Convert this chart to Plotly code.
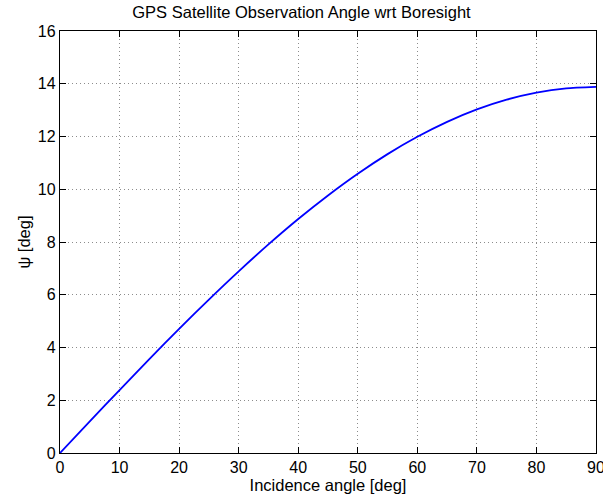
import plotly.graph_objects as go

# Incidence angle (deg) and observation angle psi wrt boresight (deg)
incidence_deg = [0, 5, 10, 15, 20, 25, 30, 35, 40, 45, 50, 55, 60, 65, 70, 75, 80, 85, 90]
psi_deg = [0.0, 1.198, 2.387, 3.559, 4.706, 5.818, 6.888, 7.908, 8.870, 9.765,
           10.588, 11.332, 11.989, 12.556, 13.027, 13.397, 13.664, 13.825, 13.879]

x_ticks = [0, 10, 20, 30, 40, 50, 60, 70, 80, 90]
y_ticks = [0, 2, 4, 6, 8, 10, 12, 14, 16]

FONT = "Liberation Sans, Arial, sans-serif"

fig = go.Figure()
fig.add_trace(go.Scatter(
    x=incidence_deg, y=psi_deg, mode="lines",
    line=dict(color="#0000ff", width=1.8, shape="spline", smoothing=0.6),
    showlegend=False, hoverinfo="skip",
))

axis_common = dict(
    showline=True, linecolor="black", linewidth=1.3, mirror="ticks",
    ticks="inside", ticklen=6, tickcolor="black", tickwidth=1,
    showgrid=True, gridcolor="#8c8c8c", griddash="1px,3px", gridwidth=1,
    zeroline=False, ticklabeloverflow="allow", automargin=False,
    tickfont=dict(family=FONT, size=16, color="black"),
)

fig.update_xaxes(
    range=[0, 90], tickvals=x_ticks, ticktext=[str(v) for v in x_ticks],
    title=dict(text="Incidence angle [deg]", standoff=0,
               font=dict(family=FONT, size=16.5, color="black")),
    **axis_common,
)
fig.update_yaxes(
    range=[0, 16], tickvals=y_ticks, ticktext=[str(v) for v in y_ticks],
    title=dict(text="ψ [deg]", standoff=3,
               font=dict(family=FONT, size=16.5, color="black")),
    **axis_common,
)

fig.update_layout(
    width=603, height=501,
    margin=dict(l=60, r=7, t=31, b=48),
    paper_bgcolor="white", plot_bgcolor="white",
    title=dict(text="GPS Satellite Observation Angle wrt Boresight",
               x=0.5, xanchor="center", y=0.976, yanchor="middle",
               font=dict(family=FONT, size=16.5, color="black")),
)

fig.write_html("out.html")
